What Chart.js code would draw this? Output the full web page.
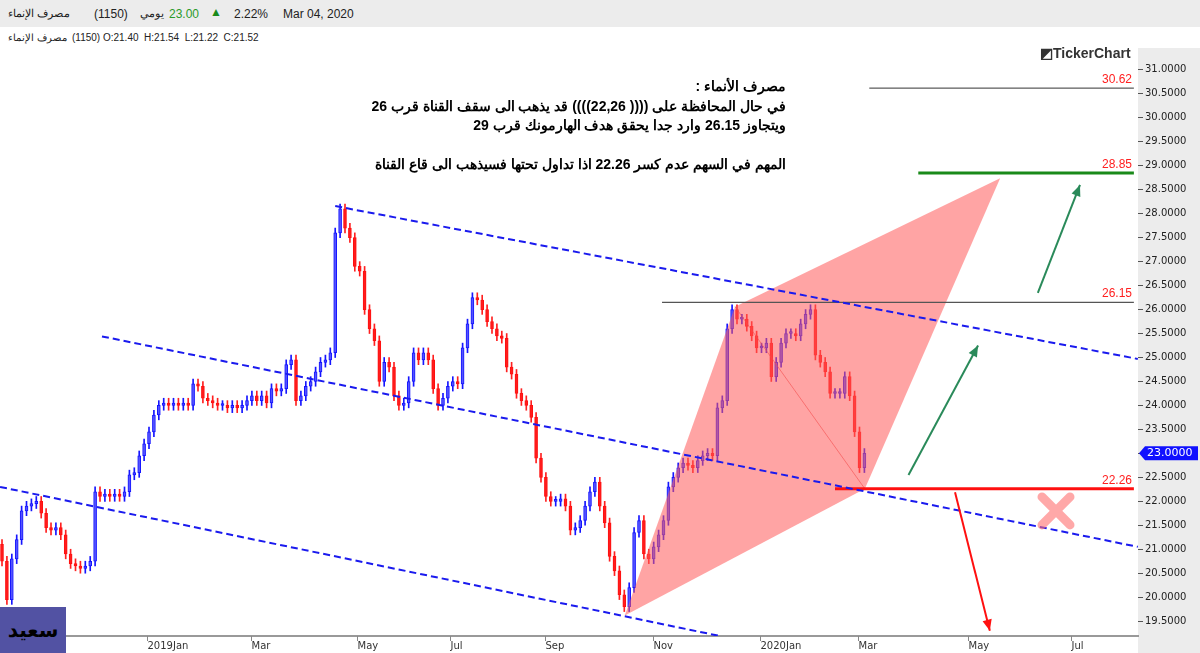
<!DOCTYPE html>
<html><head><meta charset="utf-8">
<script src="https://cdn.jsdelivr.net/npm/chart.js@4.4.1/dist/chart.umd.min.js"></script>
<style>
html,body{margin:0;padding:0;background:#fff;width:1200px;height:653px;overflow:hidden;font-family:"Liberation Sans",Arial,sans-serif;}
#top{position:absolute;left:0;top:0;width:1200px;height:27px;background:#ececec;}
.t{position:absolute;white-space:nowrap;font-size:12px;color:#222;}
#wrap{position:absolute;left:0;top:48px;width:1200px;height:605px;}
#note{position:absolute;left:330px;top:77px;width:456px;direction:rtl;text-align:right;font:bold 14px "Liberation Sans",Arial,sans-serif;line-height:19.5px;color:#000;}
#logo{position:absolute;left:1040px;top:45px;font:bold 14px "Liberation Sans",Arial,sans-serif;color:#333;}
#saeed{position:absolute;left:0;top:607px;width:66px;height:46px;background:#5252a3;color:#000;font:bold 20px "Noto Sans","DejaVu Sans",sans-serif;text-align:center;line-height:46px;}
</style></head><body>
<div id="top"></div>
<div class="t" style="left:8px;top:7px;font-size:11px">مصرف الإنماء</div>
<div class="t" style="left:94px;top:7px">(1150)</div>
<div class="t" style="left:140px;top:7px;font-size:11px">يومي</div>
<div class="t" style="left:169px;top:7px;color:#2a9a2a">23.00</div>
<div class="t" style="left:210px;top:5px;color:#1a8a1a">▲</div>
<div class="t" style="left:234px;top:7px">2.22%</div>
<div class="t" style="left:283px;top:7px">Mar 04, 2020</div>
<div class="t" style="left:8px;top:32px;font-size:10px">مصرف الإنماء</div>
<div class="t" style="left:72px;top:32px;font-size:10px">(1150) O:21.40&nbsp; H:21.54&nbsp; L:21.22&nbsp; C:21.52</div>
<div id="wrap"><canvas id="c" width="1200" height="605"></canvas></div>
<div id="note">مصرف الأنماء :<br>في حال المحافظة على (((( 22,26)))) قد يذهب الى سقف القناة قرب 26<br>ويتجاوز 26.15 وارد جدا يحقق هدف الهارمونك قرب 29<br><br>المهم في السهم عدم كسر 22.26 اذا تداول تحتها فسيذهب الى قاع القناة</div>
<div id="logo">◩TickerChart</div>
<div id="saeed">سعيد</div>
<script>
// closes per 2-trading-day slot
const closes = [20.75,19.95,20.8,21.2,21.8,21.9,21.95,22.0,21.75,21.45,21.4,21.45,21.3,20.9,20.7,20.65,20.6,20.65,20.75,22.2,
22.1,22.15,22.1,22.15,22.1,22.2,22.55,22.6,22.95,23.2,23.45,23.8,24.0,24.05,24.0,24.05,24.0,24.05,24.0,24.45,
24.4,24.15,24.1,24.05,24.0,24.0,23.95,24.0,23.95,24.0,24.1,24.2,24.1,24.2,24.05,24.35,24.3,24.35,24.85,24.95,
24.1,24.2,24.4,24.5,24.7,24.9,24.95,25.1,27.6,28.1,27.7,27.5,26.9,26.8,26.0,25.6,25.35,24.5,24.9,24.8,
24.2,24.0,24.05,24.5,25.1,24.95,25.1,24.95,24.35,24.0,24.15,24.4,24.5,24.45,25.2,25.7,26.25,26.2,26.0,25.75,
25.6,25.45,25.4,24.8,24.65,24.25,24.1,24.0,23.75,22.9,22.5,22.1,22.0,22.0,22.05,21.9,21.4,21.45,21.6,21.9,
22.2,22.4,21.9,21.55,20.85,20.55,20.05,19.8,20.2,21.35,21.6,20.9,20.8,21.05,21.3,21.6,22.3,22.5,22.7,22.8,
22.75,22.7,22.85,22.95,23.0,22.95,23.95,24.1,25.6,26.0,25.8,25.8,25.65,25.45,25.2,25.2,25.3,24.6,24.9,25.3,
25.5,25.5,25.45,25.7,25.9,26.0,25.05,24.9,24.7,24.25,24.25,24.25,24.6,24.2,23.45,22.7,23.0];
const firstOpen = 21.1;
const tickSlots = [29.6,50.8,72.4,91.4,110.8,132.9,154.7,174.7,197.1,218.2];
const tickLabels = ['2019Jan','Mar','May','Jul','Sep','Nov','2020Jan','Mar','May','Jul'];
const channelUpper = [{x:68.0,y:28.16},{x:231.8,y:24.97}];
const channelMid = [{x:20.4,y:25.44},{x:231.8,y:21.05}];
const channelLow = [{x:-0.4,y:22.30},{x:146.5,y:19.19}];
const harmonic = [{x:127.1,y:19.62},{x:149.6,y:26.06},{x:203.7,y:28.74},{x:176.1,y:22.26},{x:127.1,y:19.62}];
const levels = [30.62,28.85,26.15,22.26];
const levelStart = [177,187,134.7,170];
const levelEnd = 231;
const lastPrice = 23.0;

const bodies=[],wicks=[],bodyBg=[],bodyBd=[],wickC=[];
let prev=firstOpen;
closes.forEach((c,i)=>{
  const o=prev; prev=c;
  const up=c>=o;
  const top=Math.max(o,c), bot=Math.min(o,c);
  bodies.push({x:i,y:[bot, Math.max(top,bot+0.04)]});
  wicks.push({x:i,y:[bot-0.1, top+0.1]});
  bodyBg.push(up?'rgba(105,105,255,0.75)':'rgba(255,30,30,0.95)');
  bodyBd.push(up?'#1515ff':'#ff1010');
  wickC.push(up?'#1515ff':'#ff2020');
});
const lineDs=(data,color,w,dash,order)=>({type:'line',data,borderColor:color,borderWidth:w,borderDash:dash||[],pointRadius:0,fill:false,order:order,tension:0});
const lvlColors=['#333','#1a8a1a','#555','#ff1010'];
const lvlW=[1,3,1.2,3];
const datasets=[
 {type:'bar',data:wicks,backgroundColor:wickC,barThickness:1,grouped:false,order:6},
 {type:'bar',data:bodies,backgroundColor:bodyBg,borderColor:bodyBd,borderWidth:1,borderSkipped:false,barThickness:3,grouped:false,order:5},
 {type:'line',data:harmonic,borderColor:'rgba(0,0,0,0)',backgroundColor:'rgba(255,90,90,0.55)',fill:'shape',pointRadius:0,borderWidth:0,order:1,tension:0},
 lineDs([harmonic[1],harmonic[3]],'rgba(230,60,60,0.6)',1,[],1),
 lineDs(channelUpper,'#1a1aee',2,[7,4],0),
 lineDs(channelMid,'#1a1aee',2,[7,4],0),
 lineDs(channelLow,'#1a1aee',2,[7,4],0),
];
levels.forEach((v,i)=>datasets.push(lineDs([{x:levelStart[i],y:v},{x:levelEnd,y:v}],lvlColors[i],lvlW[i],[],0)));

const deco={id:'deco',
 beforeDraw(ch){const {ctx,chartArea:a}=ch;ctx.save();ctx.fillStyle='#ececec';ctx.fillRect(a.right,0,ch.width-a.right,a.bottom+17);ctx.restore();},
 afterDraw(ch){
  const {ctx,chartArea:a}=ch, X=ch.scales.x, Y=ch.scales.y;
  const px=s=>X.getPixelForValue(s), py=v=>Y.getPixelForValue(v);
  ctx.save();
  ctx.strokeStyle='#888';ctx.lineWidth=1;ctx.fillStyle='#333';ctx.font='10px "DejaVu Sans"';ctx.textAlign='left';ctx.textBaseline='alphabetic';
  tickSlots.forEach((s,i)=>{const x=Math.round(px(s))+0.5;ctx.beginPath();ctx.moveTo(x,a.bottom);ctx.lineTo(x,a.bottom+5);ctx.stroke();ctx.fillText(tickLabels[i],x,a.bottom+13);});
  ctx.font='12px "Liberation Sans",Arial';ctx.fillStyle='#ff2020';ctx.textAlign='right';
  levels.forEach(v=>ctx.fillText(v.toFixed(2),a.right-6,py(v)-5));
  const arrow=(x1,y1,x2,y2,col)=>{const p1=[px(x1),py(y1)],p2=[px(x2),py(y2)];ctx.strokeStyle=col;ctx.fillStyle=col;ctx.lineWidth=2;
   ctx.beginPath();ctx.moveTo(p1[0],p1[1]);ctx.lineTo(p2[0],p2[1]);ctx.stroke();
   const ang=Math.atan2(p2[1]-p1[1],p2[0]-p1[0]);ctx.beginPath();ctx.moveTo(p2[0],p2[1]);
   ctx.lineTo(p2[0]-12*Math.cos(ang-0.4),p2[1]-12*Math.sin(ang-0.4));ctx.lineTo(p2[0]-12*Math.cos(ang+0.4),p2[1]-12*Math.sin(ang+0.4));ctx.closePath();ctx.fill();};
  arrow(185,22.55,199.2,25.25,'#2a8a5a');
  arrow(211.4,26.35,220,28.6,'#2a8a5a');
  arrow(194.5,22.19,201.6,19.3,'#ff1010');
  const cx=1056,cy=py(21.8);ctx.strokeStyle='rgba(255,110,110,0.6)';ctx.lineWidth=9;ctx.lineCap='round';
  ctx.beginPath();ctx.moveTo(cx-14,cy-14);ctx.lineTo(cx+14,cy+14);ctx.moveTo(cx+14,cy-14);ctx.lineTo(cx-14,cy+14);ctx.stroke();
  const y=py(lastPrice);ctx.fillStyle='#1010ff';ctx.beginPath();ctx.moveTo(a.right+1,y);ctx.lineTo(a.right+7,y-7);ctx.lineTo(1198,y-7);ctx.lineTo(1198,y+7);ctx.lineTo(a.right+7,y+7);ctx.closePath();ctx.fill();
  ctx.fillStyle='#fff';ctx.textAlign='left';ctx.textBaseline='middle';ctx.font='11px "DejaVu Sans"';ctx.fillText(lastPrice.toFixed(4),a.right+9,y);
  ctx.restore();
 }};

new Chart(document.getElementById('c'),{
 data:{datasets},
 plugins:[deco],
 options:{responsive:false,animation:false,layout:{padding:0},
  plugins:{legend:{display:false},tooltip:{enabled:false}},
  scales:{
   x:{type:'linear',min:-0.41,max:231.84,offset:false,
      afterBuildTicks(s){s.ticks=tickSlots.map(v=>({value:v}));},
      afterFit(s){s.height=17;},
      grid:{display:false},
      border:{display:true,color:'#999',width:2},
      ticks:{display:false}},
   y:{type:'linear',position:'right',min:19.19,max:31.29,
      afterBuildTicks(s){const t=[];for(let v=19.5;v<=31.001;v+=0.5)t.push({value:+v.toFixed(1)});s.ticks=t;},
      afterFit(s){s.width=62;},
      grid:{display:true,drawOnChartArea:false,drawTicks:true,tickLength:5,color:'#555'},
      border:{display:false},
      ticks:{padding:2,color:'#222',font:{size:10,family:'"DejaVu Sans"'},callback:v=>Number(v).toFixed(4)}}
  }}
});
</script></body></html>
